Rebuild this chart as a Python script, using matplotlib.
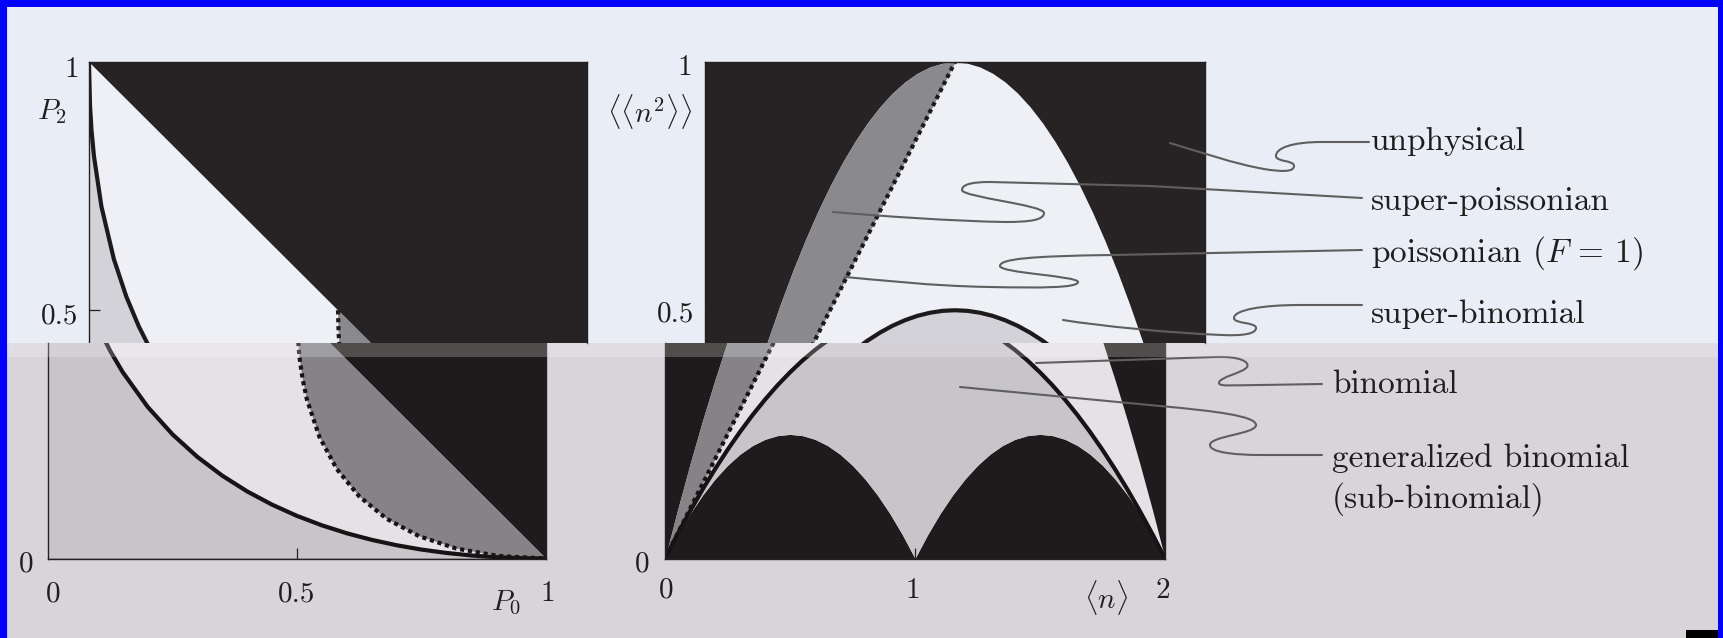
import matplotlib.pyplot as plt
from matplotlib.path import Path
from matplotlib.patches import PathPatch, Rectangle
import numpy as np

plt.rcParams['font.family'] = 'cmr10'
plt.rcParams['mathtext.fontset'] = 'cm'
plt.rcParams['axes.formatter.use_mathtext'] = True

###### DATEN ######

# linkes Bild: P0 (x) gegen P2 (y)
# Rand des physikalischen Dreiecks P0 + P2 <= 1
p0_rand = [0.0, 0.0, 1.0]
p2_rand = [0.0, 1.0, 0.0]
# binomiale Kurve
p0_binom = [0.0, 0.002, 0.005, 0.01, 0.025, 0.05, 0.075, 0.1, 0.125, 0.15, 0.2, 0.25, 0.3,
            0.35, 0.4, 0.45, 0.5, 0.55, 0.6, 0.65, 0.7, 0.75, 0.8, 0.85, 0.9, 0.95, 1.0]
p2_binom = [1.0, 0.9126, 0.8628, 0.81, 0.7088, 0.6028, 0.5273, 0.4675, 0.4179, 0.3754,
            0.3056, 0.25, 0.2046, 0.1668, 0.1351, 0.1084, 0.0858, 0.0668, 0.0508, 0.0376,
            0.0267, 0.018, 0.0112, 0.0061, 0.0026, 0.0006, 0.0]
# poissonsche Grenze (F = 1)
p0_poiss = [0.5, 0.5013, 0.505, 0.5113, 0.52, 0.545, 0.58, 0.625, 0.68, 0.745, 0.82, 0.905, 1.0]
p2_poiss = [0.5, 0.4513, 0.405, 0.3613, 0.32, 0.245, 0.18, 0.125, 0.08, 0.045, 0.02, 0.005, 0.0]

# rechtes Bild: <n> (x) gegen <<n^2>> (y)
n_mittel = [0.0, 0.05, 0.1, 0.15, 0.2, 0.25, 0.3, 0.35, 0.4, 0.45, 0.5,
            0.55, 0.6, 0.65, 0.7, 0.75, 0.8, 0.85, 0.9, 0.95, 1.0,
            1.05, 1.1, 1.15, 1.2, 1.25, 1.3, 1.35, 1.4, 1.45, 1.5,
            1.55, 1.6, 1.65, 1.7, 1.75, 1.8, 1.85, 1.9, 1.95, 2.0]
var_max = [0.0, 0.0975, 0.19, 0.2775, 0.36, 0.4375, 0.51, 0.5775, 0.64, 0.6975, 0.75,
           0.7975, 0.84, 0.8775, 0.91, 0.9375, 0.96, 0.9775, 0.99, 0.9975, 1.0,
           0.9975, 0.99, 0.9775, 0.96, 0.9375, 0.91, 0.8775, 0.84, 0.7975, 0.75,
           0.6975, 0.64, 0.5775, 0.51, 0.4375, 0.36, 0.2775, 0.19, 0.0975, 0.0]
var_binom = [0.0, 0.0488, 0.095, 0.1388, 0.18, 0.2188, 0.255, 0.2888, 0.32, 0.3488, 0.375,
             0.3988, 0.42, 0.4388, 0.455, 0.4688, 0.48, 0.4888, 0.495, 0.4988, 0.5,
             0.4988, 0.495, 0.4888, 0.48, 0.4688, 0.455, 0.4388, 0.42, 0.3988, 0.375,
             0.3488, 0.32, 0.2888, 0.255, 0.2188, 0.18, 0.1388, 0.095, 0.0488, 0.0]
var_min = [0.0, 0.0475, 0.09, 0.1275, 0.16, 0.1875, 0.21, 0.2275, 0.24, 0.2475, 0.25,
           0.2475, 0.24, 0.2275, 0.21, 0.1875, 0.16, 0.1275, 0.09, 0.0475, 0.0,
           0.0475, 0.09, 0.1275, 0.16, 0.1875, 0.21, 0.2275, 0.24, 0.2475, 0.25,
           0.2475, 0.24, 0.2275, 0.21, 0.1875, 0.16, 0.1275, 0.09, 0.0475, 0.0]
n_poiss = [0.0, 1.0]
var_poiss = [0.0, 1.0]

beschriftung_oben = ['unphysical', 'super-poissonian', 'poissonian ($F$ = 1)', 'super-binomial']
beschriftung_unten = ['binomial', 'generalized binomial', '(sub-binomial)']

###### FARBEN ######
farben_oben = dict(schwarz='#272325', weiss='#eef0f6', hell='#d2d2d8', dunkel='#8a898e',
                   linie='#1c1a1b', grund='#e9edf5')
farben_unten = dict(schwarz='#1f1b1c', weiss='#e5e1e6', hell='#c7c5ca', dunkel='#858388',
                    linie='#161314', grund='#d8d4da')

W, H = 1723, 638
fig = plt.figure(figsize=(W / 100, H / 100), dpi=100)
fig.patch.set_facecolor(farben_oben['grund'])


def px_achse(x0, y0, x1, y1, z=1):
    return fig.add_axes([x0 / W, 1 - y1 / H, (x1 - x0) / W, (y1 - y0) / H], zorder=z)


# Hintergrund: oberer und unterer Streifen
hg = px_achse(0, 0, W, H, z=0)
hg.set_xlim(0, W)
hg.set_ylim(H, 0)
hg.axis('off')
hg.add_patch(Rectangle((0, 0), W, 343, color=farben_oben['grund'], lw=0))
hg.add_patch(Rectangle((0, 343), W, H - 343, color=farben_unten['grund'], lw=0))

y_null, y_eins, y_schnitt = 558.5, 62.0, 343.0
schnitt = (y_null - y_schnitt) / (y_null - y_eins)


def rahmen(ax, oben):
    for s in ax.spines.values():
        s.set_linewidth(1.0)
        s.set_color('#222222')
    ax.spines['bottom' if oben else 'top'].set_visible(False)
    ax.tick_params(direction='in', length=8, width=0.9, color='#222222',
                   labelleft=False, labelbottom=False)


def links(ax, c, oben):
    ax.set_facecolor(c['schwarz'])
    ax.fill(p0_rand, p2_rand, color=c['weiss'], lw=0)
    ax.fill(p0_poiss, p2_poiss, color=c['dunkel'], lw=0)
    ax.fill(p0_binom + [0.0], p2_binom + [0.0], color=c['hell'], lw=0)
    ax.plot(p0_binom, p2_binom, color=c['linie'], lw=3.0)
    ax.plot(p0_poiss, p2_poiss, color=c['linie'], lw=3.0, ls=(0, (1, 0.9)))
    ax.set_xlim(0, 1)
    ax.set_ylim((schnitt, 1) if oben else (0, schnitt))
    ax.set_xticks([] if oben else [0.5])
    ax.set_yticks([0.5] if oben else [])
    rahmen(ax, oben)


def rechts(ax, c, oben):
    n = np.array(n_mittel)
    ax.set_facecolor(c['schwarz'])
    ax.fill_between(n, var_min, var_max, color=c['weiss'], lw=0)
    m = n <= 1.0
    ax.fill_between(n[m], np.interp(n[m], n_poiss, var_poiss), np.array(var_max)[m],
                    color=c['dunkel'], lw=0)
    ax.fill_between(n, var_min, var_binom, color=c['hell'], lw=0)
    ax.plot(n, var_binom, color=c['linie'], lw=3.0)
    ax.plot(n_poiss, var_poiss, color=c['linie'], lw=3.0, ls=(0, (1, 0.9)))
    ax.set_xlim(0, 2)
    ax.set_ylim((schnitt, 1) if oben else (0, schnitt))
    ax.set_xticks([] if oben else [1])
    ax.set_yticks([0.5] if oben else [])
    rahmen(ax, oben)


links(px_achse(89, y_eins, 587, y_schnitt), farben_oben, True)
links(px_achse(48, y_schnitt, 546, y_null), farben_unten, False)
rechts(px_achse(705, y_eins, 1205, y_schnitt), farben_oben, True)
rechts(px_achse(665, y_schnitt, 1165, y_null), farben_unten, False)

# Overlay für Text, Hinweislinien und Rand
ov = px_achse(0, 0, W, H, z=3)
ov.set_xlim(0, W)
ov.set_ylim(H, 0)
ov.axis('off')
ov.patch.set_alpha(0)

tc = '#1e1e1e'
fs = 21
for x, y, s, ha in [(79, 77, '1', 'right'), (78, 324, '0.5', 'right'), (33, 572, '0', 'right'),
                    (53, 601, '0', 'center'), (297, 601, '0.5', 'center'), (548, 601, '1', 'center'),
                    (692, 75, '1', 'right'), (694, 322, '0.5', 'right'), (650, 572, '0', 'right'),
                    (666, 598, '0', 'center'), (913, 598, '1', 'center'), (1163, 598, '2', 'center')]:
    ov.text(x, y, s, fontsize=fs, ha=ha, va='baseline', color=tc)

ov.text(52, 119, r'$P_2$', fontsize=fs, ha='center', va='baseline', color=tc)
ov.text(506, 610, r'$P_0$', fontsize=fs, ha='center', va='baseline', color=tc)
ov.text(650, 122, r'$\langle\langle n^2\rangle\rangle$', fontsize=fs, ha='center', va='baseline', color=tc)
ov.text(1106, 608, r'$\langle n\rangle$', fontsize=fs, ha='center', va='baseline', color=tc)

for s, y in zip(beschriftung_oben, [150, 210, 262, 323]):
    ov.text(1371, y, s, fontsize=24, ha='left', va='baseline', color=tc)
for s, y in zip(beschriftung_unten, [393, 467, 508]):
    ov.text(1332, y, s, fontsize=24, ha='left', va='baseline', color=tc)

# Hinweislinien (M = moveto, L = lineto, C = Bezier mit zwei Kontrollpunkten)
hinweise = [
    [('M', 1369, 142), ('L', 1322, 142), ('C', 1292, 142, 1276, 148, 1276, 156),
     ('C', 1276, 162, 1294, 160, 1294, 166), ('C', 1294, 172, 1282, 172, 1264, 169),
     ('C', 1235, 164, 1200, 152, 1170, 143)],
    [('M', 1362, 198), ('L', 1150, 186), ('L', 990, 182), ('C', 970, 182, 962, 185, 962, 190),
     ('C', 962, 197, 1044, 205, 1044, 213), ('C', 1044, 220, 1030, 222, 1005, 222),
     ('C', 950, 221, 880, 216, 833, 212)],
    [('M', 1362, 250), ('L', 1113, 255), ('C', 1030, 256, 1000, 259, 1000, 266),
     ('C', 1000, 273, 1078, 276, 1078, 282), ('C', 1078, 288, 1040, 288, 990, 287),
     ('C', 930, 286, 880, 280, 845, 277)],
    [('M', 1362, 305), ('L', 1300, 305), ('C', 1262, 305, 1234, 310, 1234, 318),
     ('C', 1234, 324, 1256, 322, 1256, 328), ('C', 1256, 334, 1242, 336, 1222, 335),
     ('C', 1170, 333, 1100, 326, 1063, 320)],
    [('M', 1036, 363), ('L', 1215, 357), ('C', 1240, 356, 1250, 362, 1247, 367),
     ('C', 1243, 373, 1219, 377, 1219, 383), ('C', 1219, 387, 1235, 385, 1260, 385),
     ('L', 1322, 384)],
    [('M', 960, 387), ('L', 1160, 406), ('C', 1215, 411, 1256, 416, 1256, 425),
     ('C', 1256, 434, 1210, 436, 1210, 445), ('C', 1210, 452, 1232, 455, 1262, 455),
     ('L', 1322, 455)],
]
for h in hinweise:
    verts, codes = [], []
    for seg in h:
        if seg[0] == 'M':
            verts.append(seg[1:]); codes.append(Path.MOVETO)
        elif seg[0] == 'L':
            verts.append(seg[1:]); codes.append(Path.LINETO)
        else:
            verts += [seg[1:3], seg[3:5], seg[5:7]]
            codes += [Path.CURVE4] * 3
    ov.add_patch(PathPatch(Path(verts, codes), fill=False, lw=1.5, ec='#5f5f5f',
                           capstyle='round'))

# heller Streifen an der Schnittkante, blauer Rand
ov.add_patch(Rectangle((0, 343), W, 14, color='white', alpha=0.22, lw=0))
ov.add_patch(Rectangle((0, 0), 7, H, color='#0000ff', lw=0))
ov.add_patch(Rectangle((0, 0), W, 7, color='#0000ff', lw=0))
ov.add_patch(Rectangle((1718, 0), 5, H, color='#0000ff', lw=0))
ov.add_patch(Rectangle((1686, 630), 32, 8, color='black', lw=0))

fig.savefig('out.png', dpi=100, facecolor=fig.get_facecolor())
